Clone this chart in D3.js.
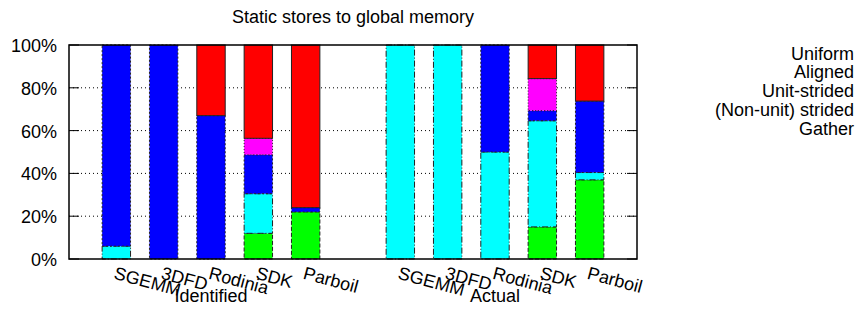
<!DOCTYPE html>
<html lang="en">
<head>
  <meta charset="UTF-8">
  <script src="https://cdn.jsdelivr.net/npm/d3@7"></script>
  <title>Static stores to global memory</title>
  <style>
    body { margin: 0; background: #fff; }
    text { font-family: "Liberation Sans", Arial, Helvetica, sans-serif; font-size: 18px; fill: #000; }
  </style>
</head>
<body>
  <svg width="859" height="309" id="chart"></svg>
  <script>
    // categories and groups
    const categories = ["SGEMM", "3DFD", "Rodinia", "SDK", "Parboil"];
    const groups = ["Identified", "Actual"];
    const seriesNames = ["Uniform", "Aligned", "Unit-strided", "(Non-unit) strided", "Gather"];
    const yTicks = [0, 20, 40, 60, 80, 100];

    // percentages, first 5 = Identified, last 5 = Actual
    const uniform        = [0, 0, 0, 12, 22,      0, 0, 0, 15, 37];
    const aligned        = [6, 0, 0, 18.5, 0,     100, 100, 50, 49.6, 3.4];
    const unitStrided    = [94, 100, 67, 18.2, 2, 0, 0, 50, 4.7, 33.4];
    const nonUnitStrided = [0, 0, 0, 7.7, 0,      0, 0, 0, 15, 0];
    const gather         = [0, 0, 33, 43.6, 76,   0, 0, 0, 15.7, 26.2];

    const seriesValues = [uniform, aligned, unitStrided, nonUnitStrided, gather];
    const colors = ["#00ff00", "#00ffff", "#0000ff", "#ff00ff", "#ff0000"];
    const dashes = ["4,2", "6,2,1,2", "2,2", "1,2", null];

    let svg = d3.select("#chart");

    const plotLeft = 69, plotRight = 637, plotTop = 45, plotBottom = 259;

    let scaleX = d3.scaleLinear().domain([-1, 11]).range([plotLeft, plotRight]);
    let scaleY = d3.scaleLinear().domain([0, 100]).range([plotBottom, plotTop]);

    // title
    svg.append("text")
      .attr("x", 353).attr("y", 23)
      .attr("text-anchor", "middle")
      .text("Static stores to global memory");

    // grid lines (dotted)
    svg.append("g").selectAll("line")
      .data(yTicks.filter(d => d > 0 && d < 100))
      .enter().append("line")
      .attr("x1", plotLeft).attr("x2", plotRight)
      .attr("y1", d => scaleY(d)).attr("y2", d => scaleY(d))
      .attr("stroke", "#000").attr("stroke-width", 1)
      .attr("stroke-dasharray", "1,3");

    // build stacked rows
    let rows = [];
    groups.forEach((g, gi) => {
      categories.forEach((c, ci) => {
        let idx = gi * 5 + ci;
        let row = { pos: gi * 6 + ci };
        seriesNames.forEach((s, si) => row[s] = seriesValues[si][idx]);
        rows.push(row);
      });
    });
    let stack = d3.stack().keys(seriesNames)(rows);

    const barW = 0.6;
    let bars = svg.append("g");
    stack.forEach((layer, si) => {
      bars.append("g").selectAll("rect")
        .data(layer.filter(d => d[1] - d[0] > 0))
        .enter().append("rect")
        .attr("x", d => scaleX(d.data.pos - barW / 2))
        .attr("width", d => scaleX(barW) - scaleX(0))
        .attr("y", d => scaleY(d[1]))
        .attr("height", d => scaleY(d[0]) - scaleY(d[1]))
        .attr("fill", colors[si])
        .attr("stroke", "#222")
        .attr("stroke-width", 1)
        .attr("stroke-dasharray", dashes[si]);
    });

    // ticks on both sides, pointing inwards
    let ticks = svg.append("g");
    yTicks.forEach(t => {
      ticks.append("line").attr("x1", plotLeft).attr("x2", plotLeft + 10)
        .attr("y1", scaleY(t)).attr("y2", scaleY(t)).attr("stroke", "#000");
      ticks.append("line").attr("x1", plotRight - 10).attr("x2", plotRight)
        .attr("y1", scaleY(t)).attr("y2", scaleY(t)).attr("stroke", "#000");
      ticks.append("text")
        .attr("x", 57).attr("y", scaleY(t) + 7)
        .attr("text-anchor", "end")
        .text(t + "%");
    });

    // border
    svg.append("rect")
      .attr("x", plotLeft).attr("y", plotTop)
      .attr("width", plotRight - plotLeft).attr("height", plotBottom - plotTop)
      .attr("fill", "none").attr("stroke", "#000").attr("stroke-width", 1.5);

    // category labels, rotated
    svg.append("g").selectAll("text")
      .data(rows)
      .enter().append("text")
      .attr("transform", d => "translate(" + scaleX(d.pos) + ",266) rotate(15)")
      .attr("y", 13)
      .text((d, i) => categories[i % 5]);

    // group labels
    svg.append("g").selectAll("text")
      .data(groups)
      .enter().append("text")
      .attr("x", (d, i) => scaleX(i * 6 + 2))
      .attr("y", 302)
      .attr("text-anchor", "middle")
      .text(d => d);

    // legend (text only)
    svg.append("g").selectAll("text")
      .data(seriesNames)
      .enter().append("text")
      .attr("x", 854)
      .attr("y", (d, i) => 59.5 + i * 18.75)
      .attr("text-anchor", "end")
      .text(d => d);
  </script>
</body>
</html>
